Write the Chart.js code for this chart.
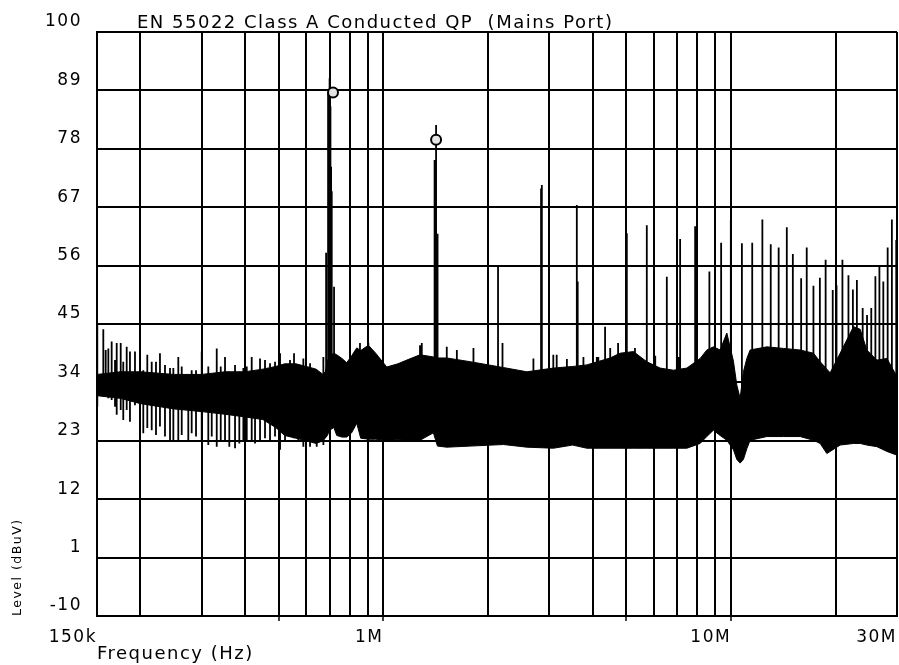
<!DOCTYPE html>
<html>
<head>
<meta charset="utf-8">
<script src="https://cdn.jsdelivr.net/npm/chart.js@4.4.1/dist/chart.umd.min.js"></script>
<style>
  html, body { margin: 0; padding: 0; background: #fff; overflow: hidden; }
  #wrap { width: 899px; height: 665px; position: relative; }
  #scan { display: block; }
</style>
</head>
<body>
<div id="wrap"><canvas id="scan"></canvas></div>
<script>
// ── Conducted emissions scan, QP detector, mains port ───────────────────────

var titleText = 'EN 55022 Class A Conducted QP  (Mains Port)';

// Axis ticks (frequency in MHz, level in dBuV)
var gridFreqs  = [0.15, 0.2, 0.3, 0.4, 0.5, 0.6, 0.7, 0.8, 0.9, 1, 2, 3, 4, 5, 6, 7, 8, 9, 10, 20, 30];
var labelFreqs = [0.15, 1, 10, 30];
var labelText  = ['150k', '1M', '10M', '30M'];
var markTicks  = [0.5, 1, 5, 10];
var levelTicks = [-10, 1, 12, 23, 34, 45, 56, 67, 78, 89, 100];

// Broadband noise floor: upper / lower envelope of the trace
var bandFreq = [0.15, 0.175, 0.2, 0.25, 0.3, 0.35, 0.4, 0.45, 0.49, 0.52, 0.56, 0.6, 0.64, 0.67, 0.68,
    0.69, 0.7, 0.72, 0.734, 0.76, 0.784, 0.81, 0.838, 0.86, 0.905, 0.95, 1.022, 1.1, 1.167, 1.274,
    1.392, 1.43, 1.521, 1.776, 2.213, 2.585, 3.083, 3.5, 3.845, 4.487, 4.794, 5.236, 5.721, 6.248,
    6.825, 7.46, 8.144, 8.513, 8.894, 9.298, 9.72, 10.155, 10.384, 10.614, 10.849, 11.096, 11.341,
    12.673, 14.141, 15.795, 17.255, 18.036, 18.852, 19.268, 20.59, 22.491, 23.508, 24.57, 26.25,
    28.06, 30];
var bandHigh = [35.5, 36, 36, 35.5, 35.5, 36, 36, 36.5, 37, 37.5, 37.5, 37, 36.5, 35.5, 36,
    38, 39, 39.5, 39.2, 38.5, 37.7, 39, 40.5, 40, 41, 39.5, 36.9, 37.5, 38.2, 39.2,
    38.8, 38.6, 38.6, 37.9, 36.8, 36, 36.7, 37, 37.3, 38.6, 39.5, 39.8, 37.9, 36.7,
    36.3, 36.7, 38.5, 40.1, 40.7, 40.1, 43.3, 38, 33.5, 31, 36, 38.5, 40.1,
    40.7, 40.4, 40.1, 39.5, 37.9, 36.5, 35.8, 39.5, 44.5, 44, 40.1, 38.2,
    38.5, 35.1];
var bandLow = [31.5, 31, 30, 29, 28.5, 28, 27.5, 27, 25.5, 24, 23.5, 23, 22.5, 23, 23.5,
    24, 25, 25.5, 24, 23.7, 23.7, 24.5, 26.3, 23.5, 23.3, 23.3, 23.1, 23.2, 23.1, 23.1,
    24.5, 22, 21.8, 22, 22.3, 21.8, 21.6, 22.2, 21.6, 21.6, 21.6, 21.6, 21.6, 21.6,
    21.6, 21.6, 22.5, 23.8, 25, 24, 23.1, 21.3, 19.5, 18.8, 19.5, 21.5, 23.1,
    23.8, 23.8, 23.8, 23.1, 22.5, 20.6, 21, 22.2, 22.5, 22.5, 22.2, 21.9,
    21, 20.3];

// Low-frequency comb below 700 kHz: each line spans low -> high
var combFreq = [0.1503, 0.1564, 0.1589, 0.1617, 0.1653, 0.169, 0.1709, 0.1755, 0.1785, 0.1826,
    0.1866, 0.1929, 0.1994, 0.2038, 0.2093, 0.2155, 0.2217, 0.2276, 0.2353, 0.2433, 0.2487,
    0.257, 0.2629, 0.2746, 0.2808, 0.289, 0.3001, 0.3135, 0.3207, 0.3315, 0.3404, 0.3502,
    0.3603, 0.3742, 0.385, 0.3954, 0.4044, 0.4179, 0.4272, 0.4416, 0.4564, 0.4718, 0.4877,
    0.5042, 0.5211, 0.5386, 0.5531, 0.5691, 0.5883, 0.615, 0.6428, 0.6717];
var combHigh = [44.8, 44.0, 40.1, 40.4, 41.7, 38.2, 41.4, 41.4, 37.9, 40.7,
    39.8, 39.8, 39.5, 36.3, 39.2, 37.9, 37.9, 39.5, 37.3, 36.7, 36.7,
    38.8, 37.0, 35.4, 36.3, 36.3, 39.8, 37.0, 35.4, 40.4, 37.0, 38.8,
    36.0, 37.3, 36.0, 36.7, 37.0, 38.8, 36.0, 38.5, 38.2, 37.6, 37.9,
    39.5, 37.0, 38.2, 39.5, 37.3, 38.5, 37.6, 36.3, 38.8];
var combLow = [29.4, 32.9, 33.5, 31.0, 30.7, 29.4, 27.9, 28.8, 26.9, 28.8,
    26.6, 29.7, 27.5, 24.4, 25.4, 25.0, 24.1, 25.7, 23.8, 23.1, 22.8,
    23.1, 24.1, 23.1, 24.4, 23.8, 23.1, 22.2, 23.8, 21.9, 23.1, 22.8,
    21.9, 21.6, 22.5, 23.1, 22.8, 23.1, 22.5, 22.8, 23.5, 23.1, 23.8,
    21.3, 23.1, 23.8, 23.5, 23.1, 21.9, 21.9, 21.9, 22.2];

// Narrowband peaks rising out of the noise floor
var spikeBase = 30;
var spikeFreq = [0.684, 0.693, 0.696, 0.700, 0.704, 0.707, 0.71, 0.721, 0.856, 0.905, 1.274,
    1.289, 1.403, 1.41, 1.417, 1.431, 1.521, 1.626, 1.815, 2.136, 2.2, 2.7, 2.84, 2.855, 3.08,
    3.15, 3.37, 3.599, 3.62, 3.76, 4.108, 4.15, 4.34, 4.49, 4.73, 5.012, 5.29, 5.721, 6.05,
    6.532, 6.98, 7.05, 7.134, 7.88, 8.66, 9.36, 9.98, 10.74, 11.5, 12.3, 13.0, 13.7, 14.46,
    15.05, 15.9, 16.5, 17.25, 18.0, 18.7, 19.6, 20.1, 20.9, 21.75, 22.4, 23.0, 23.9, 24.6,
    25.3, 26.0, 26.7, 27.4, 28.2, 29.0, 29.85];
var spikeTop = [58.4, 88.5, 88, 91.3, 86, 74.6, 70, 52, 41.4, 41.4, 41.0,
    41.4, 75.9, 75.5, 82.5, 62, 40.7, 40.1, 40.5, 56, 41.4, 38.5, 70.5, 71.2, 39.2,
    39.2, 38.4, 67.4, 53, 38.8, 38.8, 38.8, 44.5, 40.5, 41.4, 62.1, 40.5, 63.6, 39.0,
    53.9, 44.2, 38.8, 61.0, 63.4, 54.9, 60.3, 64.6, 60.2, 60.3, 64.7, 60.0, 59.4, 63.2,
    58.2, 53.6, 59.4, 52.2, 53.7, 57.1, 51.4, 52.3, 57.1, 54.2, 51.5, 53.3, 48.0, 46.7,
    48.0, 54.0, 56.1, 53.0, 59.4, 64.7, 60.8];

// Peak markers
var markFreq  = [0.716, 1.417];
var markLevel = [88.6, 79.7];

// Vertical line segments, separated by gaps
function segments(freqs, lows, highs) {
    var pts = [];
    freqs.forEach(function (f, i) {
        var lo = Array.isArray(lows) ? lows[i] : lows;
        pts.push({ x: f, y: lo }, { x: f, y: highs[i] }, { x: f, y: null });
    });
    return pts;
}

function pairs(xs, ys) {
    return xs.map(function (x, i) { return { x: x, y: ys[i] }; });
}

var headerPlugin = {
    id: 'header',
    beforeDraw: function (chart) {
        chart.ctx.letterSpacing = '1.5px';
    },
    afterDraw: function (chart) {
        var ctx = chart.ctx, a = chart.chartArea;
        ctx.save();
        ctx.font = '18px "DejaVu Sans"';
        ctx.letterSpacing = '1.5px';
        ctx.fillStyle = '#000';
        ctx.textAlign = 'left';
        ctx.textBaseline = 'alphabetic';
        ctx.fillText(titleText, a.left + 40, a.top - 4);
        ctx.restore();
    }
};

Chart.defaults.font.family = '"DejaVu Sans", sans-serif';
Chart.defaults.color = '#000';

new Chart(document.getElementById('scan'), {
    type: 'line',
    data: {
        datasets: [
            {
                label: 'Markers',
                data: pairs(markFreq, markLevel),
                showLine: false,
                pointRadius: 5,
                pointBackgroundColor: '#e4e4e4',
                pointBorderColor: '#000',
                pointBorderWidth: 2
            },
            {
                label: 'Peaks',
                data: segments(spikeFreq, spikeBase, spikeTop),
                borderColor: '#000',
                borderWidth: 1.8,
                pointRadius: 0,
                spanGaps: false,
                fill: false
            },
            {
                label: 'Comb',
                data: segments(combFreq, combLow, combHigh),
                borderColor: '#000',
                borderWidth: 1.8,
                pointRadius: 0,
                spanGaps: false,
                fill: false
            },
            {
                label: 'Floor high',
                data: pairs(bandFreq, bandHigh),
                borderColor: '#000',
                backgroundColor: '#000',
                borderWidth: 1,
                pointRadius: 0,
                fill: '+1'
            },
            {
                label: 'Floor low',
                data: pairs(bandFreq, bandLow),
                borderColor: '#000',
                borderWidth: 1,
                pointRadius: 0,
                fill: false
            }
        ]
    },
    options: {
        responsive: true,
        maintainAspectRatio: false,
        devicePixelRatio: 1,
        animation: false,
        events: [],
        elements: { line: { tension: 0 } },
        layout: {
            autoPadding: false,
            padding: { top: 32, right: 2, left: 0, bottom: 0 }
        },
        plugins: {
            legend: { display: false },
            tooltip: { enabled: false }
        },
        scales: {
            x: {
                type: 'logarithmic',
                min: 0.15,
                max: 30,
                afterBuildTicks: function (s) {
                    s.ticks = gridFreqs.map(function (v) { return { value: v }; });
                },
                afterFit: function (s) {
                    s.height = 49;
                    s.paddingLeft = 0;
                    s.paddingRight = 0;
                },
                ticks: {
                    autoSkip: false,
                    maxRotation: 0,
                    align: 'end',
                    padding: 6,
                    font: { size: 17 },
                    callback: function (v) {
                        var i = labelFreqs.indexOf(v);
                        return i < 0 ? '' : labelText[i];
                    }
                },
                grid: {
                    color: '#000',
                    lineWidth: 2,
                    drawTicks: true,
                    tickLength: 5,
                    tickWidth: 1.5,
                    tickColor: function (c) {
                        return c.tick && markTicks.indexOf(c.tick.value) >= 0 ? '#000' : 'rgba(0,0,0,0)';
                    }
                },
                border: { color: '#000', width: 2 },
                title: {
                    display: true,
                    text: 'Frequency (Hz)',
                    align: 'start',
                    font: { size: 18 },
                    padding: { top: 0, bottom: 0 }
                }
            },
            y: {
                type: 'linear',
                min: -10,
                max: 100,
                afterBuildTicks: function (s) {
                    s.ticks = levelTicks.map(function (v) { return { value: v }; });
                },
                afterFit: function (s) {
                    s.width = 97;
                    s.paddingLeft = 0;
                    s.paddingRight = 0;
                },
                ticks: {
                    padding: 15,
                    labelOffset: -10,
                    font: { size: 17 }
                },
                grid: { color: '#000', lineWidth: 2, drawTicks: false },
                border: { color: '#000', width: 2 },
                title: {
                    display: true,
                    text: 'Level (dBuV)',
                    align: 'start',
                    font: { size: 12.5 },
                    padding: { top: 10, bottom: 0 }
                }
            }
        }
    },
    plugins: [headerPlugin]
});
</script>
</body>
</html>
